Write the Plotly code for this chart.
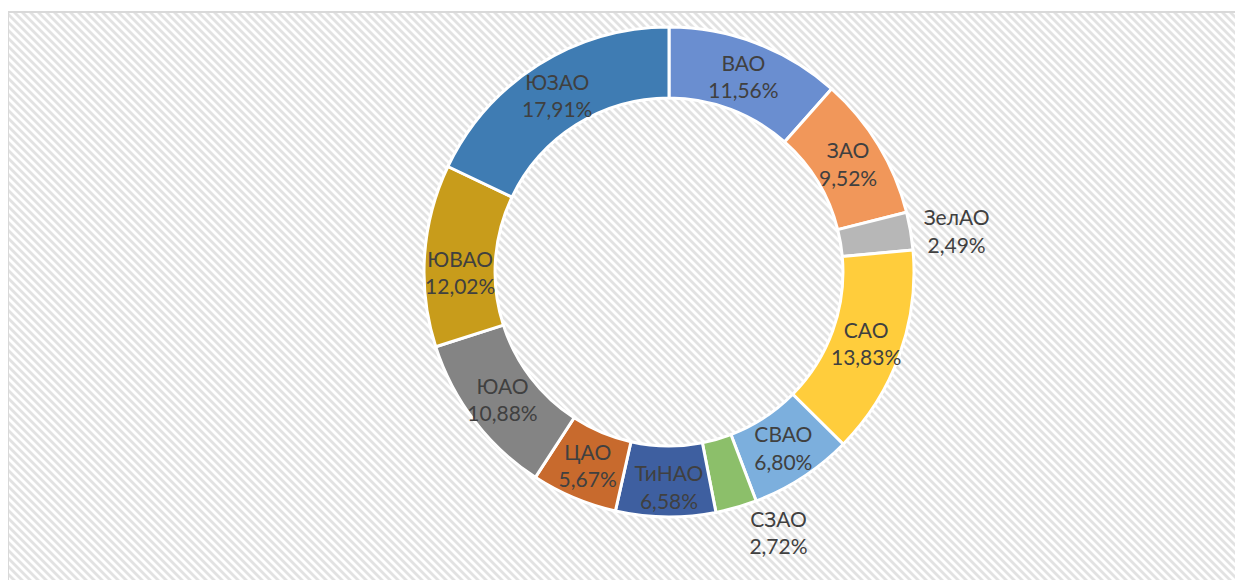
import base64
import plotly.graph_objects as go

# Data
districts = ["ВАО", "ЗАО", "ЗелАО", "САО", "СВАО", "СЗАО", "ТиНАО", "ЦАО", "ЮАО", "ЮВАО", "ЮЗАО"]
shares = [11.56, 9.52, 2.49, 13.83, 6.80, 2.72, 6.58, 5.67, 10.88, 12.02, 17.91]
slice_colors = ["#6A8ED0", "#F1975A", "#B7B7B7", "#FFCD3C", "#7CAFDD", "#8CBF6A",
                "#3E5FA0", "#C86A2D", "#848484", "#C89C1B", "#3F7CB3"]
label_pos = ["inside", "inside", "outside", "inside", "inside", "outside",
             "inside", "inside", "inside", "inside", "inside"]

OFF = 8  # browser body margin
W, H = 1243 - OFF, 580 - OFF

labels_text = [f"{d}<br>{v:.2f}%".replace(".", ",") for d, v in zip(districts, shares)]

# hatched background with border (decoration)
svg = f'''<svg xmlns="http://www.w3.org/2000/svg" width="{W}" height="{H}">
<defs><pattern id="p" width="5.657" height="5.657" patternUnits="userSpaceOnUse" patternTransform="rotate(-45)">
<rect x="0" y="0" width="5.657" height="5.657" fill="#ffffff"/>
<rect x="0" y="0" width="2.8" height="5.657" fill="#e2e2e2"/></pattern></defs>
<rect x="0" y="4" width="{W+20}" height="{H+20}" fill="url(#p)" stroke="#d9d9d9" stroke-width="2"/>
</svg>'''
src = "data:image/svg+xml;base64," + base64.b64encode(svg.encode("utf-8")).decode("ascii")

cx, cy, R = 669 - OFF, 272 - OFF, 245

fig = go.Figure(go.Pie(
    labels=districts,
    values=shares,
    text=labels_text,
    textinfo="text",
    textposition=label_pos,
    insidetextorientation="horizontal",
    hole=0.71,
    sort=False,
    direction="clockwise",
    rotation=0,
    marker=dict(colors=slice_colors, line=dict(color="white", width=3)),
    textfont=dict(family="Lato, Calibri, sans-serif", size=21, color="#404040"),
    showlegend=False,
    domain=dict(x=[(cx - R) / W, (cx + R) / W], y=[(H - cy - R) / H, (H - cy + R) / H]),
))

fig.update_layout(
    width=W, height=H,
    margin=dict(l=0, r=0, t=0, b=0),
    paper_bgcolor="white",
    plot_bgcolor="white",
    images=[dict(source=src, xref="paper", yref="paper", x=0, y=1, sizex=1, sizey=1,
                 xanchor="left", yanchor="top", sizing="stretch", layer="below")],
    uniformtext=dict(minsize=21, mode="show"),
)

fig.write_html("out.html")
